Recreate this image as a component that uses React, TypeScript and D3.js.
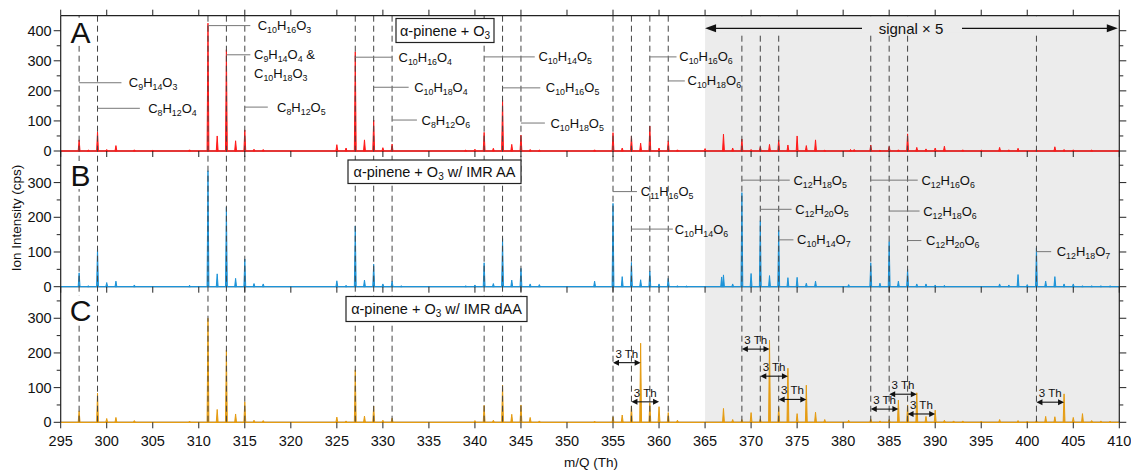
import React from 'react';
import * as d3 from 'd3';

const W = 1131;
const H = 471;

const xTickValues = d3.range(295, 411, 5);
const dashedMz = [297, 299, 311, 313, 315, 327, 329, 331, 341, 343, 345, 355, 357, 359, 361, 369, 371, 373, 383, 385, 387, 401];

// displayed intensities (cps); m/Q > 365 already shown at signal x 5
const peaksA: [number, number][] = [
  [297, 37], [298, 3], [299, 64], [300, 5], [301, 18], [303, 4], [305, 2], [309, 4],
  [311, 425], [312, 50], [313, 337], [314, 34], [315, 70], [316, 6], [317, 5],
  [325, 21], [326, 10], [327, 330], [328, 37], [329, 103], [330, 11], [331, 23],
  [339, 3], [340, 6], [341, 62], [342, 9], [343, 170], [344, 22], [345, 53], [346, 5], [347, 3],
  [353, 4], [355, 61], [356, 10], [357, 50], [358, 26], [359, 83], [360, 10], [361, 34], [362, 4],
  [365, 8], [367, 56], [368, 10], [369, 40], [370, 5], [371, 14], [372, 22], [373, 37], [374, 20],
  [375, 50], [376, 18], [377, 37], [378, 3], [380.8, 5], [381.2, 5], [383, 20], [384, 3], [385, 15],
  [386, 4], [387, 57], [388, 12], [389, 7], [390, 10], [391, 16], [393, 4], [395, 3], [397, 12],
  [398, 4], [399, 9], [401, 5], [403, 14], [404, 5], [405, 4], [407, 3],
];

const peaksB: [number, number][] = [
  [297, 40], [298, 3], [299, 110], [300, 12], [301, 16], [303, 5], [309, 4],
  [311, 334], [312, 37], [313, 229], [314, 24], [315, 80], [316, 9], [317, 8],
  [325, 17], [326, 4], [327, 175], [328, 19], [329, 65], [330, 8], [331, 16], [332, 3],
  [339, 3], [340, 5], [341, 69], [342, 9], [343, 139], [344, 19], [345, 53], [346, 8], [347, 6],
  [353, 16], [355, 240], [356, 29], [357, 70], [358, 20], [359, 45], [360, 8], [361, 24], [362, 3], [363, 2],
  [366.8, 28], [367, 34], [368, 8], [369, 271], [370, 38], [371, 190], [372, 32], [373, 163], [374, 26],
  [375, 27], [376, 10], [377, 16], [380.6, 6], [383, 69], [384, 10], [385, 130], [386, 16], [387, 50],
  [388, 8], [389, 8], [390, 5], [391, 4], [397, 8], [398, 5], [399, 35], [400, 6], [401, 112], [402, 16],
  [403, 29], [404, 8], [405, 8], [406, 3], [407, 3], [408, 3], [409, 3],
];

const peaksC: [number, number][] = [
  [297, 33], [299, 84], [300, 11], [301, 14], [303, 5], [309, 3],
  [311, 300], [312, 37], [313, 208], [314, 24], [315, 59], [316, 6], [317, 5],
  [325, 15], [326, 4], [327, 151], [328, 18], [329, 47], [330, 6], [331, 12],
  [340, 5], [341, 49], [342, 6], [343, 107], [344, 23], [345, 50], [346, 14], [347, 4],
  [353, 3], [355, 16], [356, 21], [357, 47], [358, 228], [359, 57], [360, 45], [361, 28], [362, 6],
  [367, 40], [368, 8], [369, 8], [370, 28], [371, 10], [372, 237], [373, 43], [374, 156], [375, 25],
  [376, 107], [377, 29], [378, 8], [380.6, 6], [383, 10], [384, 4], [385, 8], [386, 64], [387, 50],
  [388, 85], [389, 17], [390, 35], [391, 6], [392, 4], [393, 4], [395, 3], [397, 8], [399, 5], [400, 3],
  [401, 6], [402, 17], [403, 16], [404, 82], [405, 14], [406, 25], [407, 5], [408, 4], [409, 3],
];

const yTicksA = [0, 100, 200, 300, 400];
const yTicksBC = [0, 100, 200, 300];
const yMinorA = [50, 150, 250, 350];
const yMinorBC = [50, 150, 250, 350];

// annotations: anchor m/Q, leader end m/Q, text m/Q, level (cps), label lines
const annotA: { from: number; end: number; text: number; level: number; lines: string[] }[] = [
  { from: 311, end: 315.6, text: 316.4, level: 417, lines: ['C10H16O3'] },
  { from: 313, end: 315.6, text: 316.0, level: 320, lines: ['C9H14O4 &', 'C10H18O3'] },
  { from: 297, end: 301.6, text: 302.4, level: 227, lines: ['C9H14O3'] },
  { from: 299, end: 303.6, text: 304.5, level: 142, lines: ['C8H12O4'] },
  { from: 315, end: 317.5, text: 318.5, level: 146, lines: ['C8H12O5'] },
  { from: 327, end: 331.0, text: 331.7, level: 312, lines: ['C10H16O4'] },
  { from: 329, end: 332.8, text: 333.4, level: 212, lines: ['C10H18O4'] },
  { from: 331, end: 333.7, text: 334.2, level: 103, lines: ['C8H12O6'] },
  { from: 341, end: 346.5, text: 346.9, level: 313, lines: ['C10H14O5'] },
  { from: 343, end: 347.1, text: 347.7, level: 210, lines: ['C10H16O5'] },
  { from: 345, end: 347.6, text: 348.2, level: 93, lines: ['C10H18O5'] },
  { from: 359, end: 361.9, text: 362.2, level: 313, lines: ['C10H16O6'] },
  { from: 361, end: 362.8, text: 363.1, level: 233, lines: ['C10H18O6'] },
];

const annotB: { from: number; end: number; text: number; level: number; lines: string[] }[] = [
  { from: 355, end: 357.6, text: 358.0, level: 274, lines: ['C11H16O5'] },
  { from: 357, end: 361.5, text: 361.7, level: 166, lines: ['C10H14O6'] },
  { from: 369, end: 374.2, text: 374.6, level: 307, lines: ['C12H18O5'] },
  { from: 371, end: 374.4, text: 374.8, level: 223, lines: ['C12H20O5'] },
  { from: 373, end: 374.6, text: 375.0, level: 135, lines: ['C10H14O7'] },
  { from: 383, end: 388.1, text: 388.5, level: 307, lines: ['C12H16O6'] },
  { from: 385, end: 388.3, text: 388.7, level: 218, lines: ['C12H18O6'] },
  { from: 387, end: 388.5, text: 389.0, level: 133, lines: ['C12H20O6'] },
  { from: 401, end: 402.6, text: 403.2, level: 101, lines: ['C12H18O7'] },
];

// "3 Th" spacing arrows in panel C: [from, to, level (cps)]
const shiftArrows: [number, number, number][] = [
  [355, 358, 172], [357, 360, 59], [369, 372, 211], [371, 374, 133], [373, 376, 66],
  [383, 386, 38], [385, 388, 81], [387, 390, 24], [401, 404, 58],
];

const FONT = '"Liberation Sans", Arial, Helvetica, sans-serif';

function Formula({ s, x, y, size = 13 }: { s: string; x: number; y: number; size?: number }) {
  const parts = s.match(/(\d+|[^\d]+)/g) || [];
  const sub = size * 0.68;
  let shifted = false;
  return (
    <text x={x} y={y} fontSize={size} fontFamily={FONT} fill="#111">
      {parts.map((p, i) => {
        const isNum = /^\d+$/.test(p);
        let dy = 0;
        if (isNum && !shifted) { dy = 3; shifted = true; }
        else if (!isNum && shifted) { dy = -3; shifted = false; }
        return (
          <tspan key={i} dy={dy} fontSize={isNum ? sub : size}>{p}</tspan>
        );
      })}
    </text>
  );
}

export default function App() {
  const x = d3.scaleLinear().domain([295, 410]).range([60.7, 1119.3]);
  const panels = [
    { key: 'A', top: 15.7, bottom: 151, max: 450, color: '#ff1a1a', peaks: peaksA, ticks: yTicksA, minor: yMinorA },
    { key: 'B', top: 151, bottom: 286.7, max: 391, color: '#1c93d8', peaks: peaksB, ticks: yTicksBC, minor: yMinorBC },
    { key: 'C', top: 286.7, bottom: 422.3, max: 391, color: '#e59c12', peaks: peaksC, ticks: yTicksBC, minor: yMinorBC },
  ].map((p) => ({ ...p, y: d3.scaleLinear().domain([0, p.max]).range([p.bottom, p.top]) }));

  const [pA, pB, pC] = panels;
  const left = x(295);
  const right = x(410);
  const top = pA.top;
  const bottom = pC.bottom;
  const shadeX = x(365);
  const hw = 0.1;

  const area = d3.area<[number, number]>();

  return (
    <svg width={W} height={H} style={{ position: 'absolute', left: 0, top: 0, background: '#fff' }}>
      {/* shaded signal x5 region */}
      <rect x={shadeX} y={top} width={right - shadeX} height={bottom - top} fill="#ececec" />

      {/* panel baselines (axes) */}
      {panels.map((p) => (
        <line key={'base' + p.key} x1={left} x2={right} y1={p.bottom} y2={p.bottom} stroke="#222" strokeWidth={1} />
      ))}

      {/* traces */}
      {panels.map((p) => (
        <g key={'tr' + p.key}>
          <line x1={left} x2={right} y1={p.y(0)} y2={p.y(0)} stroke={p.color} strokeWidth={1.3} />
          {p.peaks.map(([mz, h], i) => {
            const pts: [number, number][] = [[mz - hw, 0], [mz, h], [mz + hw, 0]];
            const d = area
              .x((d) => x(d[0]))
              .y0(p.y(0))
              .y1((d) => p.y(d[1]))(pts);
            return <path key={i} d={d || ''} fill={p.color} stroke={p.color} strokeWidth={1} strokeLinejoin="miter" />;
          })}
        </g>
      ))}

      {/* dashed guide lines */}
      {dashedMz.map((mz) => (
        <line key={'dl' + mz} x1={x(mz)} x2={x(mz)} y1={top} y2={bottom} stroke="#444" strokeWidth={1} strokeDasharray="6,4" />
      ))}
      <rect x={shadeX} y={top + 0.5} width={right - shadeX - 0.5} height={16} fill="#ececec" />

      {/* frame */}
      <line x1={left} x2={left} y1={top} y2={bottom} stroke="#222" strokeWidth={1.2} />
      <line x1={right} x2={right} y1={top} y2={bottom} stroke="#222" strokeWidth={1.2} />
      <line x1={left} x2={right} y1={top} y2={top} stroke="#222" strokeWidth={1.2} />

      {/* x ticks: top (outward), panel baselines (downward), bottom with labels */}
      {xTickValues.map((v) => (
        <g key={'xt' + v}>
          <line x1={x(v)} x2={x(v)} y1={top} y2={top - 6} stroke="#222" strokeWidth={1} />
          <line x1={x(v)} x2={x(v)} y1={pA.bottom} y2={pA.bottom + 6} stroke="#222" strokeWidth={1} />
          <line x1={x(v)} x2={x(v)} y1={pB.bottom} y2={pB.bottom + 6} stroke="#222" strokeWidth={1} />
          <line x1={x(v)} x2={x(v)} y1={pC.bottom} y2={pC.bottom + 6} stroke="#222" strokeWidth={1} />
          <text x={x(v)} y={445.5} textAnchor="middle" fontSize={14.5} fontFamily={FONT} fill="#111">{v}</text>
        </g>
      ))}

      {/* y ticks */}
      {panels.map((p) => (
        <g key={'yt' + p.key}>
          {p.ticks.map((t) => (
            <g key={t}>
              <line x1={left} x2={left - 7} y1={p.y(t)} y2={p.y(t)} stroke="#222" strokeWidth={1} />
              <line x1={right} x2={right + 7} y1={p.y(t)} y2={p.y(t)} stroke="#222" strokeWidth={1} />
              <text x={left - 9} y={p.y(t) + 5} textAnchor="end" fontSize={14.5} fontFamily={FONT} fill="#111">{t}</text>
            </g>
          ))}
          {p.minor.map((t) => (
            <g key={'m' + t}>
              <line x1={left} x2={left - 4} y1={p.y(t)} y2={p.y(t)} stroke="#222" strokeWidth={1} />
              <line x1={right} x2={right + 4} y1={p.y(t)} y2={p.y(t)} stroke="#222" strokeWidth={1} />
            </g>
          ))}
        </g>
      ))}

      {/* axis titles */}
      <text x={591} y={467} textAnchor="middle" fontSize={13.5} fontFamily={FONT} fill="#111">m/Q (Th)</text>
      <text transform="translate(21,218) rotate(-90)" textAnchor="middle" fontSize={13.5} fontFamily={FONT} fill="#111">Ion Intensity (cps)</text>

      {/* panel letters */}
      {[
        { l: 'A', y0: pA.top + 2 },
        { l: 'B', y0: pB.top + 10 },
        { l: 'C', y0: pC.top + 9 },
      ].map(({ l, y0 }) => (
        <g key={'L' + l}>
          <rect x={68} y={y0} width={25} height={28} fill="#fff" />
          <text x={80.5} y={y0 + 25} textAnchor="middle" fontSize={30} fontFamily={FONT} fill="#111">{l}</text>
        </g>
      ))}

      {/* condition boxes */}
      <rect x={396} y={18.5} width={98} height={24} fill="#fff" stroke="#222" strokeWidth={1.2} />
      <text x={445} y={36} textAnchor="middle" fontSize={14.5} fontFamily={FONT} fill="#111">
        α-pinene + O<tspan fontSize={10} dy={3}>3</tspan>
      </text>
      <rect x={348} y={160} width={173} height={23.5} fill="#fff" stroke="#222" strokeWidth={1.2} />
      <text x={434.5} y={177} textAnchor="middle" fontSize={14.5} fontFamily={FONT} fill="#111">
        α-pinene + O<tspan fontSize={10} dy={3}>3</tspan><tspan dy={-3}> w/ IMR AA</tspan>
      </text>
      <rect x={346} y={296.5} width={181} height={25} fill="#fff" stroke="#222" strokeWidth={1.2} />
      <text x={436.5} y={314} textAnchor="middle" fontSize={14.5} fontFamily={FONT} fill="#111">
        α-pinene + O<tspan fontSize={10} dy={3}>3</tspan><tspan dy={-3}> w/ IMR dAA</tspan>
      </text>

      {/* signal x 5 arrow */}
      <g>
        <line x1={shadeX + 8} x2={862} y1={28.3} y2={28.3} stroke="#111" strokeWidth={1.3} />
        <line x1={962} x2={right - 9} y1={28.3} y2={28.3} stroke="#111" strokeWidth={1.3} />
        <path d={`M${shadeX},28.3 L${shadeX + 11},24.3 L${shadeX + 11},32.3 Z`} fill="#111" />
        <path d={`M${right - 1.5},28.3 L${right - 12.5},24.3 L${right - 12.5},32.3 Z`} fill="#111" />
        <text x={911} y={33.5} textAnchor="middle" fontSize={15} fontFamily={FONT} fill="#111">signal × 5</text>
      </g>

      {/* formula annotations */}
      {[{ p: pA, list: annotA }, { p: pB, list: annotB }].map(({ p, list }, k) => (
        <g key={'an' + k}>
          {list.map((a, i) => (
            <g key={i}>
              <line x1={x(a.from)} x2={x(a.end)} y1={p.y(a.level)} y2={p.y(a.level)} stroke="#777" strokeWidth={1} />
              {a.lines.map((ln, j) => (
                <Formula key={j} s={ln} x={x(a.text)} y={p.y(a.level) + 4.5 + j * 19} />
              ))}
            </g>
          ))}
        </g>
      ))}

      {/* 3 Th arrows */}
      {shiftArrows.map(([a, b, lv], i) => {
        const yy = pC.y(lv);
        const x1 = x(a);
        const x2 = x(b);
        return (
          <g key={'sa' + i}>
            <line x1={x1 + 4} x2={x2 - 4} y1={yy} y2={yy} stroke="#111" strokeWidth={1.1} />
            <path d={`M${x1},${yy} L${x1 + 6},${yy - 3} L${x1 + 6},${yy + 3} Z`} fill="#111" />
            <path d={`M${x2},${yy} L${x2 - 6},${yy - 3} L${x2 - 6},${yy + 3} Z`} fill="#111" />
            <text x={(x1 + x2) / 2} y={yy - 5} textAnchor="middle" fontSize={11.5} fontFamily={FONT} fill="#111">3 Th</text>
          </g>
        );
      })}
    </svg>
  );
}
